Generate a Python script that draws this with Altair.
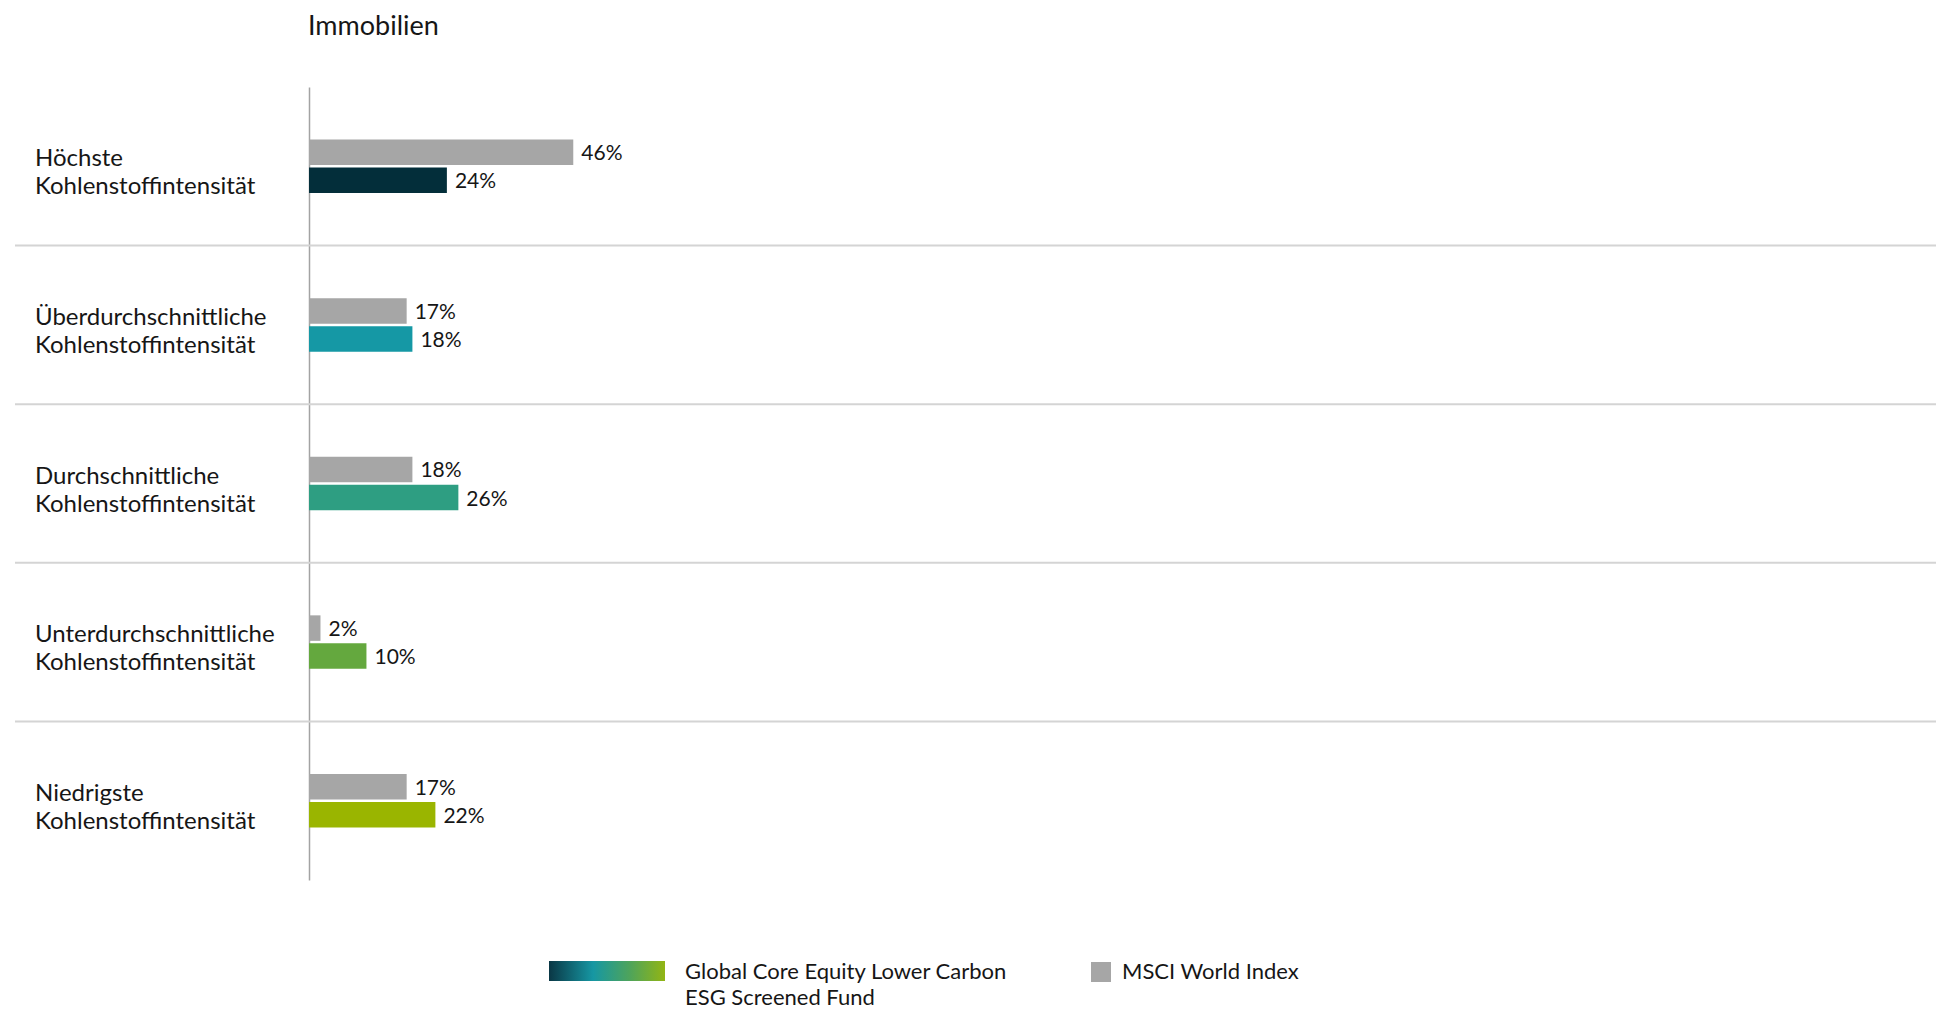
import altair as alt
import pandas as pd

# ---------------- data ----------------
categories = [
    "Höchste",
    "Überdurchschnittliche",
    "Durchschnittliche",
    "Unterdurchschnittliche",
    "Niedrigste",
]
category_labels = [
    "Höchste\nKohlenstoffintensität",
    "Überdurchschnittliche\nKohlenstoffintensität",
    "Durchschnittliche\nKohlenstoffintensität",
    "Unterdurchschnittliche\nKohlenstoffintensität",
    "Niedrigste\nKohlenstoffintensität",
]
msci_values = [46, 17, 18, 2, 17]
fund_values = [24, 18, 26, 10, 22]
fund_colors = ["#032e3a", "#1598a5", "#2e9e82", "#64a83e", "#9ab500"]
msci_color = "#a6a6a6"
series = ["MSCI World Index", "Global Core Equity Lower Carbon ESG Screened Fund"]
legend_fund_text = "Global Core Equity Lower Carbon\nESG Screened Fund"
legend_msci_text = "MSCI World Index"
chart_title = "Immobilien"

rows = []
for c, m, f, col in zip(categories, msci_values, fund_values, fund_colors):
    rows.append({"cat": c, "series": series[0], "value": m, "color": msci_color, "label": f"{m}%"})
    rows.append({"cat": c, "series": series[1], "value": f, "color": col, "label": f"{f}%"})
bars_df = pd.DataFrame(rows)
labels_df = pd.DataFrame({"cat": categories, "label": category_labels})
grid_df = pd.DataFrame({"cat": categories[1:]})

FONT = "Lato"
TXT = "#161616"
W, H = 574.5, 793

y_enc = alt.Y(
    "cat:N",
    sort=categories,
    scale=alt.Scale(type="band", domain=categories, paddingInner=0.6627, paddingOuter=0.3314),
    axis=alt.Axis(title=None, labels=False, ticks=False, grid=False, domain=True,
                  domainColor="#a3a3a3", domainWidth=1.5),
)
yoff_enc = alt.YOffset(
    "series:N", sort=series,
    scale=alt.Scale(domain=series, paddingInner=0.09, paddingOuter=0),
)
x_enc = alt.X("value:Q", scale=alt.Scale(domain=[0, 100]), axis=None)

bars = alt.Chart(bars_df).mark_bar().encode(
    y=y_enc, yOffset=yoff_enc, x=x_enc,
    color=alt.Color("color:N", scale=None),
)
values = alt.Chart(bars_df).mark_text(
    align="left", baseline="middle", dx=8, dy=2, fontSize=21, font=FONT, color=TXT
).encode(y=y_enc, yOffset=yoff_enc, x=x_enc, text="label:N")

cat_labels = alt.Chart(labels_df).mark_text(
    align="left", baseline="middle", lineBreak="\n", lineHeight=28,
    fontSize=24, font=FONT, dy=-7, color=TXT
).encode(y=y_enc, x=alt.value(-274), text="label:N")

inner = alt.layer(bars, values, cat_labels)

grid = alt.Chart(grid_df).mark_rule(color="#d4d4d4", strokeWidth=2).encode(
    y=alt.Y("cat:N", bandPosition=0,
            scale=alt.Scale(type="band", domain=categories, paddingInner=0, paddingOuter=0),
            axis=None),
    x=alt.value(-294), x2=alt.value(1627),
)

# ---------------- title ----------------
title_mark = alt.Chart(pd.DataFrame({"t": [chart_title]})).mark_text(
    align="left", baseline="alphabetic", fontSize=27, font=FONT, color=TXT
).encode(x=alt.value(-1), y=alt.value(-52), text="t:N")

# ---------------- custom legend ----------------
gradient = {
    "gradient": "linear", "x1": 0, "x2": 1, "y1": 0, "y2": 0,
    "stops": [
        {"offset": 0.0, "color": "#0a3745"},
        {"offset": 0.38, "color": "#1697a3"},
        {"offset": 0.7, "color": "#4fa45a"},
        {"offset": 1.0, "color": "#92b514"},
    ],
}
one = pd.DataFrame({"k": [0]})
leg_grad = alt.Chart(one).mark_rect(color=gradient).encode(
    x=alt.value(240), x2=alt.value(356), y=alt.value(874), y2=alt.value(894)
)
leg_fund_txt = alt.Chart(pd.DataFrame({"t": [legend_fund_text]})).mark_text(
    align="left", baseline="alphabetic", lineBreak="\n", lineHeight=26,
    fontSize=22, font=FONT, color=TXT
).encode(x=alt.value(376), y=alt.value(892), text="t:N")
leg_msci_sq = alt.Chart(one).mark_rect(color=msci_color).encode(
    x=alt.value(782), x2=alt.value(802), y=alt.value(875), y2=alt.value(895)
)
leg_msci_txt = alt.Chart(pd.DataFrame({"t": [legend_msci_text]})).mark_text(
    align="left", baseline="alphabetic", fontSize=22, font=FONT, color=TXT
).encode(x=alt.value(813), y=alt.value(892), text="t:N")

chart = alt.layer(
    grid, inner, title_mark, leg_grad, leg_fund_txt, leg_msci_sq, leg_msci_txt
).resolve_scale(y="independent").properties(
    width=W, height=H,
    autosize="none",
    padding={"left": 301, "top": 79, "right": 1052.5, "bottom": 130},
).configure_view(stroke=None)

chart.save("out.html", embed_options={"renderer": "svg", "actions": False})
